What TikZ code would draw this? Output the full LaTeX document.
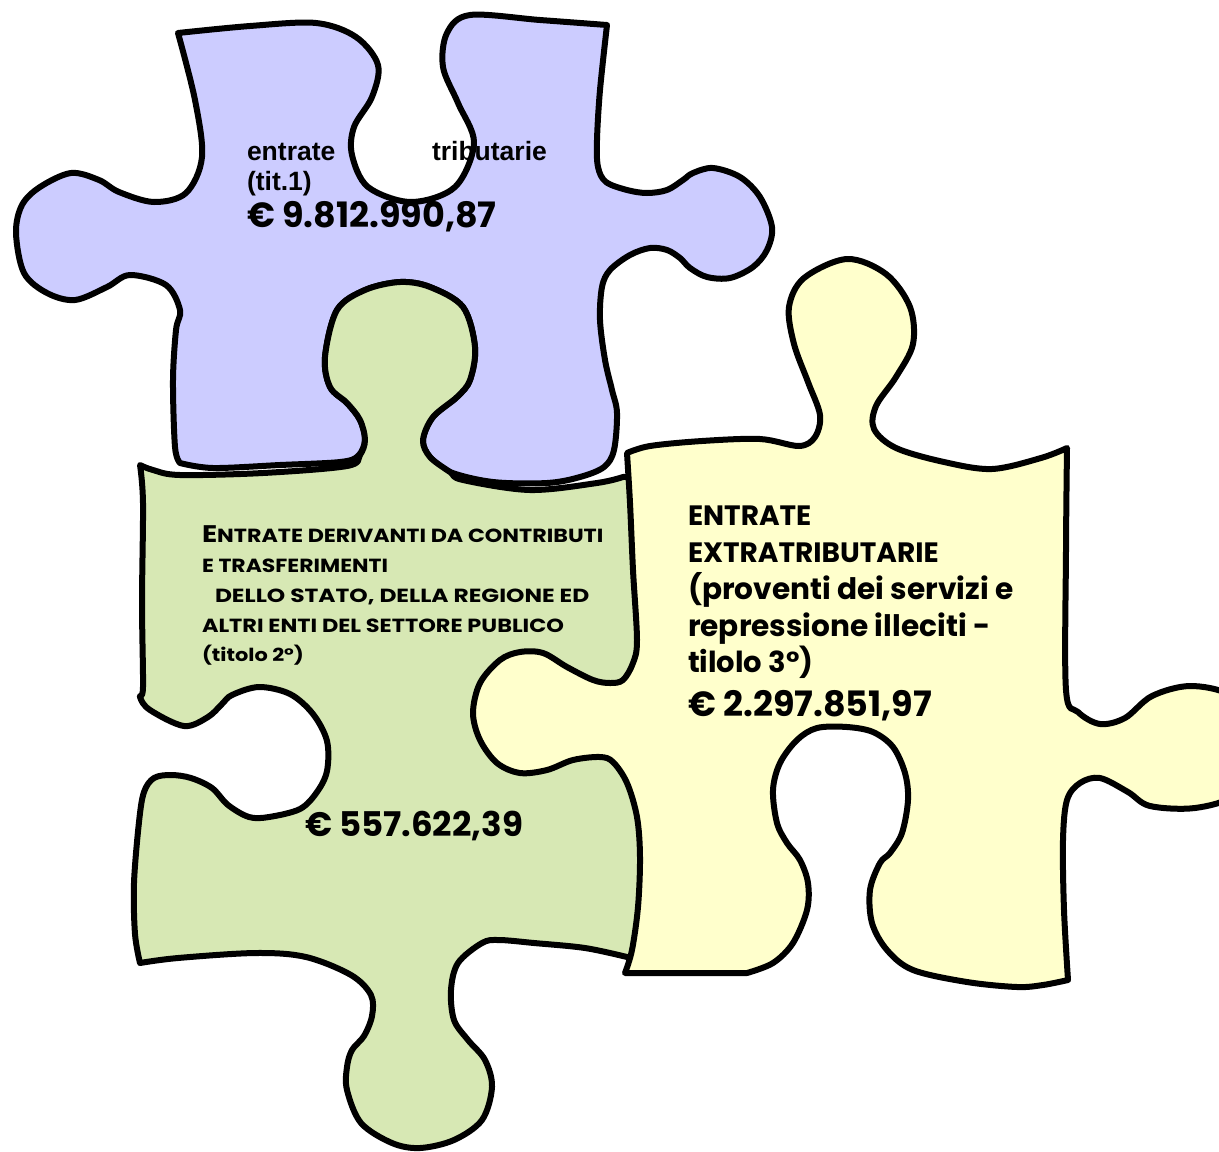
\documentclass[tikz,border=0pt]{standalone}
\usepackage{fontspec}
\usepackage{graphicx}
\newfontfamily\gothic{Poppins}
\newfontfamily\arialf{Liberation Sans}
\definecolor{purplefill}{HTML}{CCCCFF}
\definecolor{greenfill}{HTML}{D7E8B4}
\definecolor{yellowfill}{HTML}{FFFFCC}
\tikzset{
  piece/.style={draw=black, line width=6pt, line join=round},
  sm/.style={smooth, tension=0.55},
  txt/.style={anchor=base west, inner sep=0pt, outer sep=0pt},
}
\newcommand{\gt}[1]{\gothic\bfseries\fontsize{#1}{#1}\selectfont}
\newcommand{\at}[1]{\arialf\bfseries\fontsize{#1}{#1}\selectfont}
\newcommand{\sx}[2]{\scalebox{#1}[1]{#2}}
\begin{document}
\begin{tikzpicture}[x=1pt,y=-1pt]
\useasboundingbox (0,0) rectangle (1219,1152);
\clip (0,0) rectangle (1219,1152);
% purple piece
\draw[piece, fill=purplefill]
 plot[sm] coordinates {(178,33) (250,26) (316,23) (356,37) (378,65) (372,97) (354,127) (352,155) (368,187) (411,202) (455,187) (474,143) (458,103) (443,67) (447,33) (470,15) (540,20) (607,25)}
 -- plot[sm] coordinates {(607,25) (600,90) (597,140) (598,167) (606,182) (627,190) (647,193) (667,190) (683,180) (693,173) (713,168) (740,177) (760,197) (772,227) (767,250) (753,267) (730,278) (707,277) (690,268) (680,258) (667,250) (650,248) (630,255) (610,270) (602,287) (600,320) (605,360) (612,390) (617,413) (614,450) (604,467) (580,477) (547,483) (493,482) (450,472) (430,457) (423,440) (433,417) (457,397) (470,380) (475,347) (463,307) (430,287) (400,282) (365,290) (337,310) (325,357) (330,387) (347,403) (360,420) (365,440) (358,456) (340,462) (280,465) (213,468) (180,463)}
 -- plot[sm] coordinates {(180,463) (175,447) (173,380) (176,330) (180,310) (166,285) (130,275) (107,287) (75,300) (47,293) (24,273) (16,233) (22,205) (40,187) (71,173) (99,180) (119,192) (154,202) (186,193) (202,157) (195,100) (178,33)}
 -- cycle;
% green piece
\draw[piece, fill=greenfill]
 plot[sm] coordinates {(140,465) (153,470) (180,475) (263,473) (347,466) (360,455) (365,440) (360,420) (347,403) (330,387) (325,357) (337,310) (365,290) (400,282) (430,287) (463,307) (475,347) (470,380) (457,397) (433,417) (423,440) (430,457) (450,472) (463,480) (530,490) (597,483) (623,477)}
 -- (650,476) -- (650,957) -- (627,957)
 -- plot[sm] coordinates {(627,957) (585,948) (534,943) (499,940) (482,943) (458,963) (451,990) (454,1020) (468,1040) (485,1060) (492,1087) (482,1120) (454,1140) (420,1148) (392,1143) (361,1123) (347,1090) (347,1067) (352,1050) (364,1036) (372,1016) (371,995) (351,975) (306,957) (256,953) (178,958) (140,963)}
 -- plot[sm] coordinates {(140,963) (135,934) (134,883) (139,822) (144,792) (154,778) (171,775) (191,778) (212,788) (228,805) (249,817) (269,817) (300,809) (317,792) (327,771) (327,741) (313,714) (290,694) (259,687) (232,695) (222,704) (208,717) (184,726) (150,710) (140,697) (143,687) (142,603) (143,503) (140,465)}
 -- cycle;
% slight double outline on the yellow left knob
\draw[line width=3pt]
 plot[sm] coordinates {(504,664) (485,683) (476,713) (484,742) (498,760)};
% yellow piece
\draw[piece, fill=yellowfill]
 plot[sm] coordinates {(627,453) (650,446) (702,441) (760,439) (799,446) (815,437) (820,415) (808,382) (794,344) (789,307) (804,278) (847,259) (886,274) (910,307) (913,344) (896,377) (876,406) (874,429) (896,448) (944,462) (992,469) (1041,458) (1067,448)}
 -- plot[sm] coordinates {(1067,448) (1066,550) (1066,690) (1078,712) (1100,724) (1125,718) (1152,696) (1190,686) (1230,695) (1252,725) (1255,760) (1235,795) (1195,808) (1150,806) (1128,792) (1100,778) (1080,783) (1067,800) (1063,840) (1064,910) (1068,980)}
 -- plot[sm] coordinates {(1068,980) (1043,985) (1017,987) (967,982) (913,970) (887,950) (872,923) (870,890) (880,863) (890,853) (902,833) (908,800) (905,773) (893,747) (873,732) (847,727) (817,728) (797,740) (780,763) (773,790) (777,823) (787,843) (800,860) (808,883) (807,910) (793,943) (773,963) (747,973)}
 -- (625,973)
 -- plot[sm] coordinates {(625,973) (632,950) (638,907) (640,857) (637,817) (627,783) (613,762) (600,757) (573,760) (547,770) (520,773) (497,763) (480,740) (473,713) (480,683) (500,660) (520,652) (543,653) (567,667) (593,680) (610,683) (623,680) (633,663) (637,640) (633,570) (630,503) (627,453)}
 -- cycle;
% purple text
\node[txt] (pa) at (247,160) {\at{26.5}entrate};
\node[txt] (pb) at (432,160) {\at{26.5}tributarie};
\node[txt] (pc) at (247,190) {\at{26.5}(tit.1)};
\node[txt] (pd) at (247,227) {\gt{35}€ 9.812.990,87};
% green text
\node[txt] (g1) at (202,542) {\sx{1.17}{\gt{19}{\fontsize{24}{24}\selectfont E}NTRATE DERIVANTI DA CONTRIBUTI}};
\node[txt] (g2) at (202,572) {\sx{1.155}{\gt{19}E TRASFERIMENTI}};
\node[txt] (g3) at (215,602) {\sx{1.23}{\gt{19}DELLO STATO, DELLA REGIONE ED}};
\node[txt] (g4) at (202,632) {\sx{1.18}{\gt{19}ALTRI ENTI DEL SETTORE PUBLICO}};
\node[txt] (g5) at (202,661) {\sx{1.16}{\gt{18}(titolo 2°)}};
\node[txt] (g6) at (305,836) {\gt{34}€ 557.622,39};
% yellow text
\node[txt] (y1) at (688,525) {\gt{28}ENTRATE};
\node[txt] (y2) at (688,562) {\gt{28}EXTRATRIBUTARIE};
\node[txt] (y3) at (688,599) {\gt{29.6}(proventi dei servizi e};
\node[txt] (y4) at (688,636) {\gt{29.6}repressione illeciti -};
\node[txt] (y5) at (688,672) {\gt{29}tilolo 3°)};
\node[txt] (y6) at (688,716) {\gt{35}€ 2.297.851,97};
\end{tikzpicture}
\end{document}
